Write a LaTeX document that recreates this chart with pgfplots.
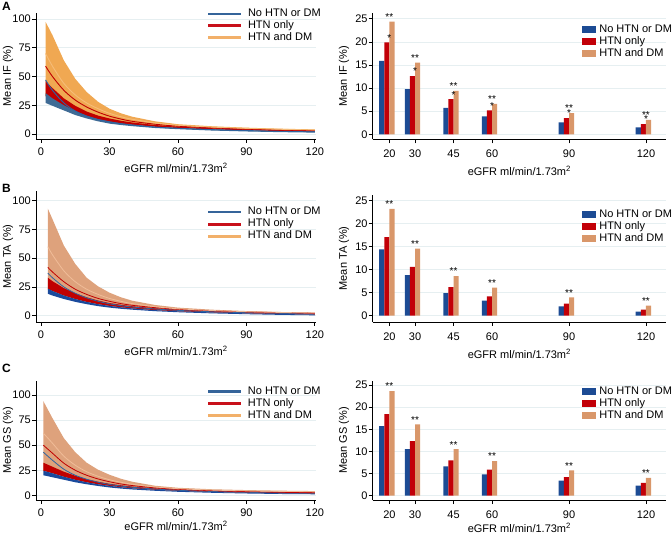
\documentclass[border=0pt]{standalone}
\usepackage{fontspec}
\setmainfont{Liberation Sans}
\usepackage{pgfplots}
\usepackage{pgfplotstable}
\pgfplotsset{compat=1.18}

\definecolor{gridc}{HTML}{E6EFF1}
\definecolor{bandblueA}{HTML}{3F6B95}
\definecolor{bandred}{HTML}{C00000}
\definecolor{bandorA}{HTML}{F0A852}
\definecolor{lineblueA}{HTML}{2F64A0}
\definecolor{lineorA}{HTML}{F6BC78}
\definecolor{bandblueB}{HTML}{1A4A9C}
\definecolor{bandorB}{HTML}{DEA27C}
\definecolor{lineorB}{HTML}{F0BC98}
\definecolor{legblue}{HTML}{35649A}
\definecolor{legred}{HTML}{C8101A}
\definecolor{legor}{HTML}{F2B06A}
\definecolor{barblue}{HTML}{1C4B94}
\definecolor{barred}{HTML}{C20008}
\definecolor{baror}{HTML}{D9976A}
\newcommand{\lf}{\fontsize{11}{13}\selectfont}

% mean lines
\pgfplotstableread{
x oln rln bln
2 70 59 47
5 59 50 38
10 44 38 27
15 34 29.5 20
20 27 23.5 15.5
25 22 19 12.5
30 18 15.5 10.5
35 15 13 9
40 12.8 11 7.8
50 9.6 8.5 6
60 7.6 6.8 5
75 6 5.3 3.8
90 4.9 4.2 3
105 4.1 3.4 2.4
120 3.5 2.8 2.0
}\dA
\pgfplotstableread{
x oln rln bln
3 60 42 37
5 53 38 33
10 39 29.5 25
15 29.5 23 19.5
20 23 18.5 15.5
25 18.5 15 12.5
30 15 12.5 10.3
35 12.5 10.5 8.7
40 10.5 9 7.5
50 7.8 7 5.8
60 6 5.6 4.6
75 4.5 4.3 3.4
90 3.5 3.3 2.6
105 2.8 2.6 2
120 2.3 2.1 1.5
}\dB
\pgfplotstableread{
x oln rln bln
1 62 50 43
5 52 42 35
10 39 32 26
15 30 25 20
20 23.5 20 16
25 19 16.3 13
30 15.5 13.5 10.8
35 13 11.3 9.2
40 11 9.7 8
50 8.3 7.4 6.2
60 6.6 6 5
75 5.2 4.6 3.8
90 4.4 3.7 3
105 3.9 3 2.4
120 3.5 2.6 2
}\dC

\pgfplotsset{
  common/.style={
    scale only axis,
    anchor=south west,
    axis x line*=bottom, axis y line*=left,
    axis line style={black, line width=0.9pt, -},
    tick align=outside, major tick length=4pt,
    tick style={black, line width=0.8pt},
    ymajorgrids, grid style={gridc, line width=0.8pt},
    font=\lf,
    tick label style={font=\lf, inner sep=1pt},
    label style={font=\lf},
    /pgf/number format/assume math mode=true,
    xlabel={eGFR ml/min/1.73m\textsuperscript{2}},
    legend cell align=left,
    legend style={draw=none, fill=none, anchor=north west, font=\lf, inner sep=0pt,
      row sep=1.5pt, nodes={inner sep=0pt, text height=8pt, text depth=2.5pt}},
  },
  leftax/.style={common, width=280pt, xmin=-2.2, xmax=120.5,
    xtick={0,30,60,90,120}, ytick={0,25,50,75,100},
    ylabel style={at={(axis description cs:-0.1,0.5)}, anchor=center, inner sep=0pt},
    xticklabel style={yshift=-4pt},
    xlabel style={inner sep=0pt, yshift=-6pt},
    legend style={column sep=7pt}},
  rightax/.style={common, width=293.3pt, xmin=13.5, xmax=127.8,
    xtick={20,30,45,60,90,120}, ytick={0,5,10,15,20,25}, clip=false,
    ylabel style={at={(axis description cs:-0.098,0.5)}, anchor=center, inner sep=0pt},
    xticklabel style={yshift=-5.5pt},
    xlabel style={inner sep=0pt, yshift=-7pt},
    legend style={column sep=3pt},
    every node near coord/.append style={font=\fontsize{10}{10}\selectfont, inner sep=1pt, anchor=south, text=black}},
  bluebar/.style={ybar, bar width=2, bar shift=-3, fill=barblue, draw=none,
    legend image code/.code={\fill[barblue] (0pt,-3.5pt) rectangle (14pt,3.5pt);}},
  redbar/.style={ybar, bar width=2, bar shift=-1, fill=barred, draw=none,
    legend image code/.code={\fill[barred] (0pt,-3.5pt) rectangle (14pt,3.5pt);}},
  orbar/.style={ybar, bar width=2, bar shift=1, fill=baror, draw=none,
    legend image code/.code={\fill[baror] (0pt,-3.5pt) rectangle (14pt,3.5pt);}},
  lgB/.style={legend image code/.code={\fill[legblue] (0pt,-0.6pt) rectangle (32pt,0.6pt);}},
  lgR/.style={legend image code/.code={\fill[legred] (0pt,-0.75pt) rectangle (32pt,0.75pt);}},
  lgO/.style={legend image code/.code={\fill[legor] (0pt,-1pt) rectangle (32pt,1pt);}},
}

\begin{document}
\begin{tikzpicture}
\path[use as bounding box] (0pt,0pt) rectangle (672pt,-534pt);

% ---------- A left ----------
\begin{axis}[leftax, at={(36pt,-139pt)}, height=126pt, ymin=-4.35, ymax=105.2,
  ylabel={Mean IF (\%)}, legend style={at={(0.614,1.038)}}]
\addplot[fill=bandorA, draw=none, forget plot] coordinates {(2,97.5)(5,86)(10,64)(15,48)(20,36.5)(25,28)(30,22)(35,18)(40,15)(50,11)(60,8.5)(75,6.7)(90,5.5)(105,4.6)(120,4.0)(120,2.2)(105,2.6)(90,3.2)(75,4)(60,5.2)(50,6.3)(40,8)(35,9)(30,10.5)(25,12.5)(20,15.5)(15,19)(10,23.5)(5,29)(2,33)};
\addplot[fill=bandred, draw=none, forget plot] coordinates {(2,46)(5,40)(10,31)(15,24.5)(20,19.5)(25,16)(30,13.5)(35,11.5)(40,10)(50,7.8)(60,6.3)(75,5)(90,4)(105,3.3)(120,2.8)(120,2.2)(105,2.6)(90,3.2)(75,4)(60,5.2)(50,6.3)(40,8)(35,9)(30,10.5)(25,12.5)(20,15.5)(15,19)(10,23.5)(5,29)(2,33)};
\addplot[fill=bandblueA, draw=none, forget plot] coordinates {(2,35.5)(5,31)(10,25)(15,20)(20,16)(25,13)(30,11)(35,9.3)(40,8.2)(50,6.3)(60,5.2)(75,4)(90,3.1)(105,2.5)(120,2.0)(120,1.2)(105,1.6)(90,2.2)(75,3)(60,4.2)(50,5.2)(40,6.8)(35,7.8)(30,9)(25,11)(20,13.5)(15,16.5)(10,20.5)(5,24.5)(2,27)};
\addplot[lineblueA, line width=0.9pt, smooth, lgB] table[x=x,y=bln]{\dA};
\addlegendentry{No HTN or DM}
\addplot[bandred, line width=0.9pt, smooth, lgR] table[x=x,y=rln]{\dA};
\addlegendentry{HTN only}
\addplot[lineorA, line width=0.9pt, smooth, lgO] table[x=x,y=oln]{\dA};
\addlegendentry{HTN and DM}
\end{axis}

% ---------- A right ----------
\begin{axis}[rightax, at={(372.7pt,-139.3pt)}, height=126pt, ymin=-1.08, ymax=26.2,
  ylabel={Mean IF (\%)}, legend style={at={(0.714,0.913)}}]
\addplot[bluebar] coordinates {(20,15.9) (30,9.8) (45,5.7) (60,3.9) (90,2.6) (120,1.5)};
\addplot[redbar, nodes near coords={*}] coordinates {(20,19.9) (30,12.6) (45,7.6) (60,5.2) (90,3.5) (120,2.2)};
\addplot[orbar, nodes near coords={**}] coordinates {(20,24.4) (30,15.5) (45,9.4) (60,6.6) (90,4.6) (120,3.1)};
\legend{No HTN or DM, HTN only, HTN and DM}
\end{axis}

% ---------- B left ----------
\begin{axis}[leftax, at={(36pt,-322pt)}, height=131pt, ymin=-5.5, ymax=108.4,
  ylabel={Mean TA (\%)}, legend style={at={(0.614,0.880)}}]
\addplot[fill=bandorB, draw=none, forget plot] coordinates {(3,93)(5,84)(10,61)(15,45)(20,33)(25,25.5)(30,20)(35,16)(40,13)(50,9.3)(60,7)(75,5.2)(90,4)(105,3.2)(120,2.7)(120,1)(105,1.4)(90,2)(75,2.8)(60,3.8)(50,4.8)(40,6.3)(35,7.3)(30,8.5)(25,10)(20,12)(15,14.5)(10,17.5)(5,21.5)(3,23)};
\addplot[fill=bandred, draw=none, forget plot] coordinates {(3,33)(5,30)(10,24)(15,19.5)(20,16)(25,13.2)(30,11)(35,9.5)(40,8.2)(50,6.4)(60,5.1)(75,3.9)(90,3)(105,2.4)(120,1.9)(120,1)(105,1.4)(90,2)(75,2.8)(60,3.8)(50,4.8)(40,6.3)(35,7.3)(30,8.5)(25,10)(20,12)(15,14.5)(10,17.5)(5,21.5)(3,23)};
\addplot[fill=bandblueB, draw=none, forget plot] coordinates {(3,23.5)(5,21.5)(10,17.5)(15,14.5)(20,12)(25,10)(30,8.5)(35,7.3)(40,6.3)(50,4.8)(60,3.8)(75,2.8)(90,2)(105,1.4)(120,1)(120,0.3)(105,0.7)(90,1.3)(75,2)(60,3)(50,3.9)(40,5.2)(35,6)(30,7)(25,8.3)(20,10)(15,12)(10,14.5)(5,17.5)(3,19)};
\addplot[lineblueA, line width=0.8pt, smooth, lgB] table[x=x,y=bln]{\dB};
\addlegendentry{No HTN or DM}
\addplot[bandred, line width=0.8pt, smooth, lgR] table[x=x,y=rln]{\dB};
\addlegendentry{HTN only}
\addplot[lineorB, line width=0.8pt, smooth, lgO] table[x=x,y=oln]{\dB};
\addlegendentry{HTN and DM}
\end{axis}

% ---------- B right ----------
\begin{axis}[rightax, at={(372.7pt,-322pt)}, height=127.3pt, ymin=-1.37, ymax=26.3,
  ylabel={Mean TA (\%)}, legend style={at={(0.714,0.885)}}]
\addplot[bluebar] coordinates {(20,14.4) (30,8.8) (45,4.9) (60,3.3) (90,2.0) (120,0.9)};
\addplot[redbar] coordinates {(20,17.1) (30,10.6) (45,6.2) (60,4.2) (90,2.6) (120,1.3)};
\addplot[orbar, nodes near coords={**}] coordinates {(20,23.2) (30,14.6) (45,8.6) (60,6.1) (90,4.0) (120,2.2)};
\legend{No HTN or DM, HTN only, HTN and DM}
\end{axis}

% ---------- C left ----------
\begin{axis}[leftax, at={(36pt,-500pt)}, height=119pt, ymin=-4.7, ymax=114,
  xlabel style={yshift=3pt},
  ylabel={Mean GS (\%)}, legend style={at={(0.614,0.959)}}]
\addplot[fill=bandorB, draw=none, forget plot] coordinates {(1,94)(5,77)(10,57)(15,43)(20,32.5)(25,25.5)(30,20.5)(35,16.5)(40,13.5)(50,9.5)(60,7.5)(75,6)(90,5.2)(105,4.6)(120,4.2)(120,1.6)(105,2)(90,2.5)(75,3.3)(60,4.4)(50,5.5)(40,7)(35,8.1)(30,9.4)(25,11)(20,13)(15,15.5)(10,18.5)(5,22)(1,24.5)};
\addplot[fill=bandred, draw=none, forget plot] coordinates {(1,32.5)(5,28.5)(10,23.5)(15,19.5)(20,16)(25,13.5)(30,11.5)(35,10)(40,8.7)(50,6.8)(60,5.5)(75,4.3)(90,3.5)(105,2.9)(120,2.5)(120,1.6)(105,2)(90,2.5)(75,3.3)(60,4.4)(50,5.5)(40,7)(35,8.1)(30,9.4)(25,11)(20,13)(15,15.5)(10,18.5)(5,22)(1,24.5)};
\addplot[fill=bandblueB, draw=none, forget plot] coordinates {(1,24.5)(5,22)(10,18.5)(15,15.5)(20,13)(25,11)(30,9.4)(35,8.1)(40,7)(50,5.5)(60,4.4)(75,3.3)(90,2.5)(105,2)(120,1.6)(120,1)(105,1.3)(90,1.8)(75,2.5)(60,3.5)(50,4.5)(40,5.8)(35,6.7)(30,7.8)(25,9.3)(20,11)(15,13)(10,15.5)(5,18)(1,20)};
\addplot[lineblueA, line width=0.8pt, smooth, lgB] table[x=x,y=bln]{\dC};
\addlegendentry{No HTN or DM}
\addplot[bandred, line width=0.8pt, smooth, lgR] table[x=x,y=rln]{\dC};
\addlegendentry{HTN only}
\addplot[lineorB, line width=0.8pt, smooth, lgO] table[x=x,y=oln]{\dC};
\addlegendentry{HTN and DM}
\end{axis}

% ---------- C right ----------
\begin{axis}[rightax, at={(372.7pt,-500pt)}, height=119pt, ymin=-0.97, ymax=25.9,
  xlabel style={yshift=3.5pt},
  ylabel={Mean GS (\%)}, legend style={at={(0.714,0.959)}}]
\addplot[bluebar] coordinates {(20,15.7) (30,10.5) (45,6.6) (60,4.8) (90,3.4) (120,2.3)};
\addplot[redbar] coordinates {(20,18.4) (30,12.3) (45,8.0) (60,5.9) (90,4.2) (120,2.9)};
\addplot[orbar, nodes near coords={**}] coordinates {(20,23.6) (30,16.1) (45,10.5) (60,7.8) (90,5.7) (120,4.0)};
\legend{No HTN or DM, HTN only, HTN and DM}
\end{axis}

\node[anchor=north west, inner sep=0pt, font=\bfseries\fontsize{12}{12}\selectfont] at (2pt,-2pt) {A};
\node[anchor=north west, inner sep=0pt, font=\bfseries\fontsize{12}{12}\selectfont] at (2pt,-184pt) {B};
\node[anchor=north west, inner sep=0pt, font=\bfseries\fontsize{12}{12}\selectfont] at (2pt,-364pt) {C};
\end{tikzpicture}
\end{document}
